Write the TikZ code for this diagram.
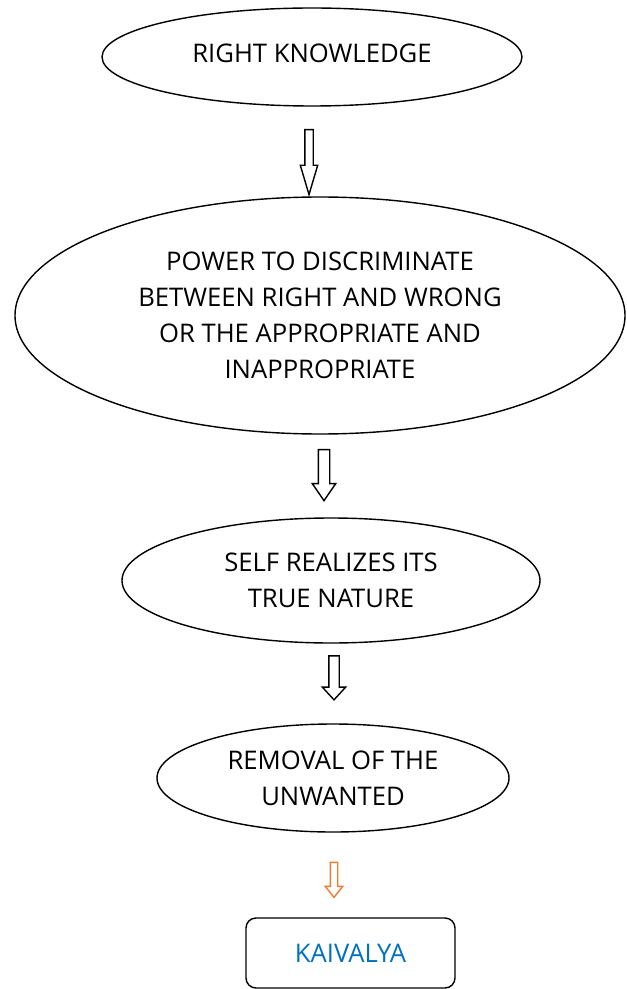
\documentclass[tikz,border=0pt]{standalone}
\usepackage{fontspec}
\setmainfont{Open Sans}
\usepackage{tikz}
\usetikzlibrary{shapes.geometric,shapes.arrows,positioning}
\definecolor{wordorange}{RGB}{237,125,49}
\definecolor{wordblue}{RGB}{0,112,192}
\tikzset{
  bubble/.style={ellipse, draw, line width=0.8pt, inner sep=0pt, align=center,
    font=\fontsize{14.6}{20.4}\selectfont},
  darrow/.style={single arrow, draw, line width=0.8pt, fill=white, inner xsep=0pt,
    rotate=-90},
  endbox/.style={rectangle, draw, line width=0.8pt, rounded corners=0.2cm,
    text=wordblue, font=\fontsize{14.6}{20.4}\selectfont}
}

\begin{document}
\begin{tikzpicture}

    \useasboundingbox (0,0) rectangle (12.52,-19.78);

    % Stages
    \node[bubble, minimum width=8.4cm, minimum height=1.96cm] (know) at (6.24,-1.14)
        {\raisebox{0.14cm}{RIGHT KNOWLEDGE}};
    \node[bubble, minimum width=12.2cm, minimum height=4.74cm] (discr) at (6.40,-6.31)
        {POWER TO DISCRIMINATE\\BETWEEN RIGHT AND WRONG\\OR THE APPROPRIATE AND\\INAPPROPRIATE};
    \node[bubble, minimum width=8.36cm, minimum height=2.5cm] (self) at (6.62,-11.61)
        {SELF REALIZES ITS\\TRUE NATURE};
    \node[bubble, minimum width=7.04cm, minimum height=2.16cm] (remov) at (6.66,-15.56)
        {REMOVAL OF THE\\UNWANTED};
    \node[endbox, minimum width=4.18cm, minimum height=1.4cm] (kaiv) at (7.01,-19.06)
        {KAIVALYA};

    % Block arrows
    \node[darrow, minimum height=1.3cm, inner ysep=0.07cm,
        single arrow head extend=0.09cm, single arrow tip angle=33] (a1) at (6.18,-3.1) {};
    \node[darrow, minimum height=1.02cm, inner ysep=0.1cm,
        single arrow head extend=0.12cm, single arrow tip angle=69] (a2) at (6.48,-9.42) {};
    \node[darrow, minimum height=0.88cm, inner ysep=0.09cm,
        single arrow head extend=0.13cm, single arrow tip angle=85] (a3) at (6.68,-13.5) {};
    \node[darrow, draw=wordorange, minimum height=0.7cm, inner ysep=0.06cm,
        single arrow head extend=0.1cm, single arrow tip angle=77] (a4) at (6.68,-17.55) {};

\end{tikzpicture}
\end{document}
